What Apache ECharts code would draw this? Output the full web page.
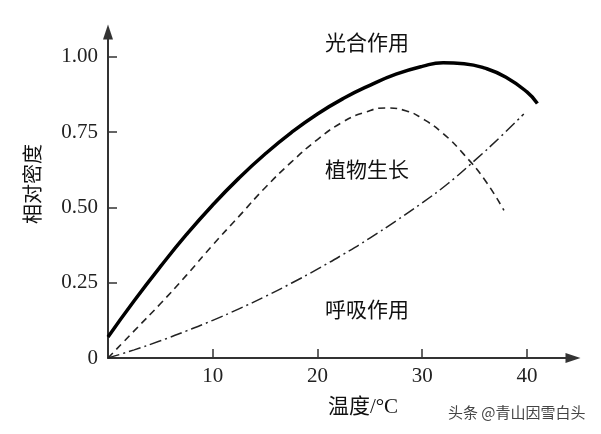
<!DOCTYPE html>
<html>
<head>
<meta charset="utf-8">
<script src="https://cdn.jsdelivr.net/npm/echarts@6/dist/echarts.min.js"></script>
<style>html,body{margin:0;padding:0;background:#fff;}#c{width:601px;height:434px;}</style>
</head>
<body>
<div id="c"></div>
<script>
// Data (temperature °C vs relative intensity)
const photoX = [0, 2.5, 5, 7.5, 10, 12.5, 15, 17.5, 20, 22.5, 25, 27.5, 30, 32, 34, 36, 38, 40, 41];
const photoY = [0.07, 0.19, 0.303, 0.41, 0.508, 0.597, 0.677, 0.748, 0.81, 0.862, 0.905, 0.942, 0.968, 0.98, 0.977, 0.962, 0.932, 0.883, 0.845];
const growthX = [0, 2.5, 5, 7.5, 10, 12.5, 15, 17.5, 20, 22.5, 24.5, 26.5, 28.5, 30, 32, 34, 36, 37.8];
const growthY = [0, 0.09, 0.18, 0.275, 0.375, 0.47, 0.565, 0.65, 0.725, 0.785, 0.815, 0.83, 0.82, 0.795, 0.745, 0.675, 0.59, 0.49];
const respX = [0, 2.5, 5, 7.5, 10, 12.5, 15, 17.5, 20, 22.5, 25, 27.5, 30, 32.5, 35, 37.5, 39.7];
const respY = [0, 0.027, 0.057, 0.09, 0.125, 0.163, 0.204, 0.248, 0.295, 0.345, 0.398, 0.455, 0.515, 0.58, 0.655, 0.735, 0.81];
const xTicks = [10, 20, 30, 40];
const yTicks = [0, 0.25, 0.5, 0.75, 1.0];
const seriesNames = ['光合作用', '植物生长', '呼吸作用'];

const zip = (xs, ys) => xs.map((x, i) => [x, ys[i]]);
const serif = "'Liberation Serif', 'Noto Sans CJK SC', serif";
const cjk = "'Noto Sans CJK SC', sans-serif";

const chart = echarts.init(document.getElementById('c'), null, {renderer: 'canvas'});
chart.setOption({
  animation: false,
  backgroundColor: '#fff',
  grid: {left: 108, right: 28, top: 32, bottom: 76},
  xAxis: {
    type: 'value', min: 0, max: 44.4,
    splitLine: {show: false},
    axisLine: {lineStyle: {color: '#333', width: 2}, symbol: ['none', 'triangle'], symbolSize: [10, 15]},
    axisTick: {inside: true, length: 9, lineStyle: {color: '#333', width: 1.5}, customValues: xTicks},
    axisLabel: {customValues: xTicks, color: '#222', fontSize: 21, fontFamily: serif, margin: 8}
  },
  yAxis: {
    type: 'value', min: 0, max: 1.082,
    splitLine: {show: false},
    axisLine: {lineStyle: {color: '#333', width: 2}, symbol: ['none', 'triangle'], symbolSize: [10, 15]},
    axisTick: {inside: true, length: 9, lineStyle: {color: '#333', width: 1.5}, customValues: yTicks},
    axisLabel: {customValues: yTicks, color: '#222', fontSize: 21, fontFamily: serif, margin: 10,
      formatter: v => v === 0 ? '0' : v.toFixed(2)}
  },
  series: [
    {name: seriesNames[0], type: 'line', data: zip(photoX, photoY), smooth: 0.5, showSymbol: false,
     lineStyle: {color: '#000', width: 3.5}},
    {name: seriesNames[1], type: 'line', data: zip(growthX, growthY), smooth: 0.5, showSymbol: false,
     lineStyle: {color: '#222', width: 1.6, type: [7, 5]}},
    {name: seriesNames[2], type: 'line', data: zip(respX, respY), smooth: 0.5, showSymbol: false,
     lineStyle: {color: '#222', width: 1.5, type: [12, 4, 2, 4]}}
  ],
  graphic: [
    {type: 'text', left: 325, top: 32, style: {text: seriesNames[0], font: "21px " + cjk, fill: '#111'}},
    {type: 'text', left: 325, top: 159, style: {text: seriesNames[1], font: "21px " + cjk, fill: '#111'}},
    {type: 'text', left: 325, top: 299, style: {text: seriesNames[2], font: "21px " + cjk, fill: '#111'}},
    {type: 'text', x: 363, y: 407, style: {text: '温度/°C', font: "21px " + serif, fill: '#111', align: 'center', verticalAlign: 'middle'}},
    {type: 'text', x: 32, y: 184, rotation: Math.PI / 2, style: {text: '相对密度', font: "20px " + cjk, fill: '#111', align: 'center', verticalAlign: 'middle'}},
    {type: 'text', left: 448, top: 405, style: {text: '头条 @青山因雪白头', font: "15px " + cjk, fill: '#444'}}
  ]
});
</script>
</body>
</html>
